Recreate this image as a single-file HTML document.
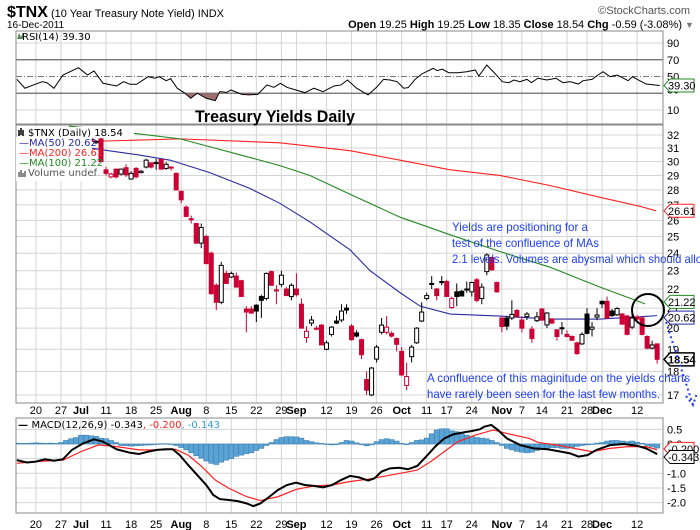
<!DOCTYPE html>
<html><head><meta charset="utf-8"><style>
html,body{margin:0;padding:0;background:#fff;}
svg{display:block;font-family:"Liberation Sans",Arial,sans-serif;}
.ax{font-size:11px;fill:#000;}
.lg{font-family:"DejaVu Sans",sans-serif;font-size:10px;}
.note{font-size:12px;fill:#2040f0;}
</style></head><body>
<svg id="chart" width="700" height="530" viewBox="0 0 700 530">
<rect x="0" y="0" width="700" height="530" fill="#fff"/>
<g>
<text x="7" y="17"><tspan font-weight="bold" font-size="16">$TNX</tspan><tspan font-size="11"> (10 Year Treasury Note Yield) INDX</tspan></text>
<text x="690" y="14" font-size="11" fill="#555" text-anchor="end">©StockCharts.com</text>
<text x="7" y="28" font-size="10">16-Dec-2011</text>
<text x="682" y="28" font-size="11" text-anchor="end"><tspan font-weight="bold">Open</tspan> 19.25 <tspan font-weight="bold">High</tspan> 19.25 <tspan font-weight="bold">Low</tspan> 18.35 <tspan font-weight="bold">Close</tspan> 18.54 <tspan font-weight="bold">Chg</tspan> -0.59 (-3.08%)</text>
<text x="685" y="28" font-size="9" fill="#777">▼</text>
</g>
<g id="grid"></g>
<g id="rsi"></g>
<g id="main"></g>
<g id="macd"></g>
<g id="over"></g>
</svg>
<script>
// ---------- DATA ----------
const startDate = "2011-06-14";
const holidays = ["2011-07-04","2011-09-05","2011-10-10","2011-11-11","2011-11-24"];
const labelDates = ["2011-06-20","2011-06-27","2011-07-01","2011-07-11","2011-07-18","2011-07-25","2011-08-01","2011-08-08","2011-08-15","2011-08-22","2011-08-29","2011-09-01","2011-09-12","2011-09-19","2011-09-26","2011-10-03","2011-10-11","2011-10-17","2011-10-24","2011-11-01","2011-11-07","2011-11-14","2011-11-21","2011-11-28","2011-12-01","2011-12-12"];
const labelTexts = ["20","27","Jul","11","18","25","Aug","8","15","22","29","Sep","12","19","26","Oct","11","17","24","Nov","7","14","21","28","Dec","12"];
const priceTicks = [32,31,30,29,28,27,26,25,24,23,22,21,20,19,18,17];
const rsiTicks = [90,70,50,30,10];
const macdTicks = [0.5,0.0,-0.5,-1.0,-1.5,-2.0];

const opens = [30.0,30.9,29.7,29.9,29.4,29.6,29.8,29.8,29.5,28.9,29.4,29.9,30.6,
31.6,32.0,31.7,31.4,31.7,29.4,28.9,29.45,29.1,29.55,28.75,29.5,29.2,29.6,29.9,29.85,30.15,29.5,29.6,29.15,27.9,26.85,26.1,25.8,24.6,25.0,24.0,22.2,21.3,22.85,22.65,22.7,22.45,20.95,20.95,21.15,21.6,21.5,22.95,21.95,22.25,22.0,21.6,22.0,21.2,19.55,20.25,20.0,20.15,19.0,19.7,20.35,20.4,21.0,20.1,
19.77,19.45,17.65,17.0,18.55,19.8,19.8,19.75,19.5,18.9,17.4,18.66,19.3,20.35,21.5,22.25,22.0,22.35,22.4,21.03,21.85,21.88,21.95,21.85,22.5,21.5,22.95,23.75,22.35,20.5,20.5,20.5,20.88,20.4,20.57,19.95,20.37,20.95,20.16,20.45,19.92,19.98,19.7,19.6,19.3,19.25,20.7,19.95,20.55,21.35,21.35,20.85,20.66,20.7,20.6,20.05,20.55,20.5,19.6,19.05,19.25];
const highs = [31.2,31.0,30.2,30.0,29.8,29.9,30.0,29.9,29.6,29.5,29.9,30.6,31.6,
32.2,32.1,31.8,31.6,31.9,29.6,29.2,29.5,29.5,29.8,29.3,29.6,29.4,30.2,29.9,30.2,30.2,29.95,29.65,29.2,27.95,26.95,26.3,25.85,25.8,25.1,24.1,22.3,23.5,23.0,22.95,22.9,22.5,21.1,21.1,21.2,21.7,22.9,23.0,22.2,23.0,22.1,22.3,22.85,21.5,20.1,20.6,20.1,20.2,19.4,20.1,20.6,21.2,21.2,20.2,
19.9,19.5,18.0,18.2,19.2,20.5,20.6,19.85,19.55,19.1,18.4,19.2,20.05,21.3,21.8,22.7,22.05,22.7,22.5,21.6,22.3,21.95,22.4,22.4,22.6,22.3,24.0,23.8,22.4,20.55,20.6,21.4,20.95,20.6,20.8,20.1,20.8,21.0,20.8,20.5,19.95,20.3,19.9,19.65,19.35,19.8,21.0,20.3,21.0,21.4,21.6,20.95,21.05,20.75,20.65,20.7,20.65,20.6,19.65,19.4,19.25];
const lows = [29.9,29.6,29.5,29.3,29.3,29.5,29.6,29.2,28.7,28.8,29.3,29.8,30.5,
31.5,31.6,31.4,31.3,29.9,29.0,28.8,28.8,29.0,28.9,28.7,28.8,29.15,29.5,29.5,29.4,29.4,29.4,29.35,27.95,27.1,26.2,25.8,24.55,24.3,23.4,21.7,20.9,21.2,22.3,22.6,22.1,21.6,19.8,20.7,20.3,20.5,21.4,22.2,21.2,22.1,21.65,21.4,21.6,20.0,19.3,20.1,19.9,19.2,18.95,19.6,20.2,20.3,20.7,19.4,
19.55,18.55,17.0,16.95,18.4,19.7,19.7,19.55,18.9,17.8,17.2,18.4,19.25,20.3,21.4,22.0,21.4,22.2,21.6,20.95,21.1,21.6,21.8,21.6,21.3,21.2,22.75,23.0,21.8,19.8,19.9,20.4,20.5,19.8,20.4,19.3,20.3,20.35,20.0,20.2,19.4,19.7,19.55,19.4,18.75,19.2,19.7,19.6,20.4,21.0,20.45,20.55,20.6,20.15,19.65,19.95,20.3,19.65,19.0,19.0,18.35];
const closes = [31.0,29.7,29.9,29.4,29.6,29.8,29.9,29.6,28.9,29.4,29.9,30.6,31.6,
32.0,31.7,31.5,31.5,30.0,29.15,29.1,28.9,29.45,29.05,29.15,28.9,29.3,30.1,29.6,29.92,29.45,29.8,29.55,28.0,27.33,26.25,26.05,24.6,25.55,23.4,21.75,21.3,23.3,22.3,22.85,22.1,21.6,20.8,20.75,20.85,21.4,22.85,22.2,21.9,22.75,21.65,22.2,21.7,20.0,19.85,20.4,19.95,19.2,19.3,20.05,20.25,20.85,20.9,19.45,
19.62,18.75,17.2,18.15,19.1,20.15,20.05,19.62,19.23,17.85,17.78,19.1,20.0,20.8,21.65,22.3,21.65,22.4,21.6,21.5,21.6,21.63,22.0,22.35,21.4,22.1,23.9,23.05,21.85,20.08,20.1,20.68,20.58,20.0,20.7,19.5,20.56,20.4,20.75,20.25,19.6,20.02,19.6,19.42,18.8,19.7,19.75,20.05,20.65,21.22,20.5,20.62,20.98,20.2,19.7,20.5,20.45,19.7,19.05,19.2,18.54];

const ma50Idx = [1.8,11.2,17.8,25.7,33.7,39.7,45.7,53.7,57.7,63.7,67.7,73.7,83.6,93.6,103.6,112.6,115];
const ma50Val = [31.0,30.5,30.1,29.2,28.1,27.1,25.9,24.2,23.0,21.8,21.1,20.7,20.6,20.45,20.45,20.58,20.62];
const ma100Idx = [-2.4,11.2,19.8,25.7,33.7,39.7,45.7,53.7,63.7,73.7,83.6,93.6,103.6,112.6];
const ma100Val = [32.7,32.1,31.7,31.1,30.3,29.7,29.0,27.7,26.2,25.1,24.1,23.2,22.1,21.22];
const ma200Idx = [1.8,19.8,39.7,53.7,63.7,73.7,83.6,93.6,103.6,111.6,114.8];
const ma200Val = [31.5,31.7,31.4,30.8,30.1,29.4,29.0,28.3,27.5,26.9,26.61];

const rsiIdx = [-12.8,-11.2,-9.5,-7.7,-6.8,-5.4,-3.6,-0.5,1.3,2.6,4.4,7.1,8.5,9.8,11.1,13.4,14.7,15.6,17,17.9,19.2,20.6,21.9,23.2,25,26.8,27.7,29.1,29.9,32.1,33.5,35.3,37.1,38.5,39.8,41.1,42.9,44.7,46.5,48.3,50.5,51.9,53.2,55,57.3,59,60.4,61.7,63.1,64.4,65.3,66.7,68,70.3,71.1,72.1,73.4,75.2,77,78.7,79.4,81,82.3,84.1,85.4,86.4,87.6,89,89.9,91.2,93,94.8,96.2,97.6,99.3,100.2,102,102.9,104.2,105.6,107,108.3,109.2,110.1,111,112.8,114.6,115.5];
const rsiVal = [46.6,36,39.9,43.8,42.6,36,51.8,60.5,51.8,56.6,41.9,38.7,43.8,40.7,40.7,49.8,47.9,49.8,45,47.4,36,30.7,24,30,24,21.1,31.9,31,33.9,28.7,28,28.7,39.9,37.1,41.9,37.1,33.9,30.7,36,31.9,38.7,39.9,45.8,36,28,37.1,46.6,45.8,43.8,36,36.7,46.6,53,59.7,57,58.8,54.5,54.5,55.7,57.8,50.6,63.7,55.7,43.8,42.6,45.8,43.8,46.6,42.6,47.9,45.8,47.9,42.6,43.8,41,45,46.6,50.6,55.7,49.8,51.8,47.9,45,49.8,46.6,41,39.9,39.3];

const macdIdx = [-12.8,-10.8,-9,-7.2,-5.4,-3.6,-1.8,0.4,2.6,4.4,7.1,9.8,11.6,13.4,15.2,17,18.3,19.7,21.4,23.2,25,26.4,27.7,29.5,31.3,33.1,34.4,35.8,37.6,39.3,41.1,42.9,44.7,46.5,48.3,50.1,51.9,53.7,55.5,57.3,58.6,60,61.7,63.5,65.3,67.1,68.9,70.7,72.5,74.3,76.1,77.9,79.6,80.5,81.9,83.2,85,87.7,90.4,93.1,95.8,97.6,99.3,101.1,102.9,105.6,108.3,111,112.8,115];
const macdVal = [-0.55,-0.63,-0.6,-0.52,-0.57,-0.52,-0.2,0.02,0.16,0.08,-0.18,-0.3,-0.34,-0.26,-0.2,-0.18,-0.18,-0.38,-0.72,-1.06,-1.4,-1.74,-1.88,-1.91,-1.95,-2.03,-2.12,-2.03,-1.8,-1.57,-1.4,-1.32,-1.4,-1.43,-1.48,-1.4,-1.23,-1.09,-1.14,-1.25,-1.17,-0.94,-0.83,-0.81,-0.86,-0.75,-0.43,-0.09,0.19,0.33,0.39,0.44,0.5,0.59,0.65,0.48,0.19,-0.04,-0.15,-0.18,-0.26,-0.32,-0.43,-0.38,-0.2,-0.04,0.0,-0.06,-0.15,-0.343];
const signalIdx = [-12.8,-9,-3.6,0,3.5,7.1,11.6,15.2,18.8,21.4,24.1,26.8,29.5,33.1,35.8,39.3,42.9,46.5,50.1,53.7,57.3,60.9,64.4,67.1,69.8,72.5,75.2,78.8,82.3,85,89.5,91.3,94.9,98.4,102,105.6,109.2,112.8,115];
const signalVal = [-0.66,-0.6,-0.55,-0.26,-0.03,-0.09,-0.2,-0.2,-0.18,-0.38,-0.77,-1.23,-1.51,-1.8,-1.93,-1.8,-1.55,-1.43,-1.4,-1.28,-1.2,-1.09,-0.98,-0.89,-0.6,-0.26,0.08,0.31,0.48,0.36,0.19,0.05,-0.03,-0.15,-0.26,-0.15,-0.09,-0.09,-0.2];
const histVal = [0.03,0.02,0.02,0.03,0.04,0.03,0.02,0.03,0.02,0.05,0.12,0.18,0.22,0.3,0.3,0.28,0.26,0.2,0.18,0.12,0.05,-0.05,-0.06,-0.07,-0.06,-0.05,-0.04,-0.03,0.0,0.01,0.01,0.0,-0.05,-0.12,-0.2,-0.3,-0.4,-0.48,-0.58,-0.66,-0.7,-0.62,-0.55,-0.5,-0.42,-0.38,-0.33,-0.3,-0.22,-0.15,-0.05,0.05,0.15,0.22,0.25,0.25,0.24,0.2,0.12,0.08,0.04,0.02,0.0,-0.03,-0.02,0.05,0.12,0.1,0.04,-0.02,-0.06,-0.03,0.08,0.15,0.18,0.15,0.1,0.02,-0.02,0.05,0.12,0.14,0.2,0.35,0.48,0.52,0.52,0.45,0.42,0.35,0.3,0.25,0.22,0.2,0.18,0.12,0.05,-0.05,-0.15,-0.2,-0.25,-0.28,-0.3,-0.28,-0.22,-0.18,-0.15,-0.12,-0.12,-0.15,-0.15,-0.12,-0.08,-0.05,-0.03,0.0,0.03,0.05,0.1,0.12,0.12,0.1,0.08,0.1,0.06,0.02,-0.05,-0.1,-0.14];

// ---------- SCALES ----------
const NS = "http://www.w3.org/2000/svg";
const FIRST = -13; // index of first data point (Jun 14)
const X0 = 81, DX = 5.01, L = 16, R = 663;
const xOf = i => X0 + i * DX;
const yMain = p => 135 + (Math.log(32) - Math.log(p)) * 411;
const yRsi = v => 43 + (90 - v) * 0.8375;
const yMacd = v => 444 - v * 29.3;

function el(tag, attrs, parent, text) {
  const e = document.createElementNS(NS, tag);
  for (const k in attrs) e.setAttribute(k, attrs[k]);
  if (text !== undefined) e.textContent = text;
  parent.appendChild(e);
  return e;
}
function tradingIndex(ds) {
  let d = new Date(startDate + "T12:00:00Z"), target = new Date(ds + "T12:00:00Z"), idx = FIRST;
  while (d < target) {
    d.setUTCDate(d.getUTCDate() + 1);
    const wd = d.getUTCDay(), s = d.toISOString().slice(0, 10);
    if (wd !== 0 && wd !== 6 && holidays.indexOf(s) < 0) idx++;
  }
  return idx;
}
const svg = document.getElementById("chart");
const grid = document.getElementById("grid");
const rsiG = document.getElementById("rsi");
const mainG = document.getElementById("main");
const macdG = document.getElementById("macd");
const over = document.getElementById("over");

// clip paths
const defs = el("defs", {}, svg);
[["cRsi", 31, 93], ["cMain", 125, 278], ["cMacd", 418, 95]].forEach(c => {
  const cp = el("clipPath", { id: c[0] }, defs);
  el("rect", { x: L, y: c[1], width: R - L, height: c[2] }, cp);
});

// panel frames & vertical grid
const panels = [[31, 124], [125, 403], [418, 513]];
const labelIdx = labelDates.map(tradingIndex);
panels.forEach((p, k) => {
  labelIdx.forEach(i => {
    const g = el("line", { x1: xOf(i), x2: xOf(i), y1: p[0], y2: p[1], stroke: "#d4d4d4", "stroke-width": 1 }, grid);
    
    
  });
});
priceTicks.forEach(t => {
  const g = el("line", { x1: L, x2: R, y1: yMain(t), y2: yMain(t), stroke: "#d4d4d4" }, grid);
  
  
  const tx = el("text", { x: 667, y: yMain(t) + 4, class: "ax" }, grid, String(t));
  
  
});
[[0.5],[-0.5],[-1.0],[-1.5],[-2.0],[0.0]].forEach(a => {
  const g = el("line", { x1: L, x2: R, y1: yMacd(a[0]), y2: yMacd(a[0]), stroke: "#d4d4d4" }, grid);
  
  
});
macdTicks.forEach(t => {
  const tx = el("text", { x: 667, y: yMacd(t) + 4, class: "ax" }, grid, t.toFixed(1));
  
  
});
rsiTicks.forEach(t => {
  const style = t === 70 || t === 30 ? { stroke: "#666", "stroke-width": 1.2 } : t === 50 ? { stroke: "#777", "stroke-dasharray": "6,2,1,2" } : { stroke: "#d4d4d4" };
  const g = el("line", Object.assign({ x1: L, x2: R, y1: yRsi(t), y2: yRsi(t) }, style), grid);
  
  
  const tx = el("text", { x: 667, y: yRsi(t) + 4 - (t === 30 ? 4 : 0), class: "ax" }, grid, String(t));
  
  
});
panels.forEach(p => {
  const f = el("rect", { x: L, y: p[0], width: R - L, height: p[1] - p[0], fill: "none", stroke: "#888" }, grid);
  
  
});
// date labels (two rows)
[410, 524].forEach(yy => {
  labelIdx.forEach((i, k) => {
    const bold = /^[A-Z]/.test(labelTexts[k]);
    const tx = el("text", { x: xOf(i), y: yy + 4, class: "ax", "text-anchor": "middle", "font-weight": bold ? "bold" : "normal", "font-size": bold ? 12 : 11 }, grid, labelTexts[k]);
    
    
  });
});

// ---------- RSI ----------
const rsiPts = rsiIdx.map((i, k) => [xOf(i), yRsi(rsiVal[k])]);
const cpB = el("clipPath", { id: "cBelow" }, defs);
el("rect", { x: L, y: yRsi(30), width: R - L, height: 124 - yRsi(30) }, cpB);
const area = el("polygon", { points: rsiPts.map(p => p.join(",")).join(" ") + ` ${rsiPts[rsiPts.length-1][0]},${yRsi(30)} ${rsiPts[0][0]},${yRsi(30)}`, fill: "#a07070", "clip-path": "url(#cBelow)" }, rsiG);


const rl = el("polyline", { points: rsiPts.map(p => p.join(",")).join(" "), fill: "none", stroke: "#000", "stroke-width": 1, "clip-path": "url(#cRsi)" }, rsiG);



// ---------- MAIN ----------
const cg = el("g", { "clip-path": "url(#cMain)" }, mainG);
function maLine(idx, val, color, name) {
  const pl = el("polyline", { points: idx.map((i, k) => xOf(i) + "," + yMain(val[k])).join(" "), fill: "none", stroke: color, "stroke-width": 1.1 }, cg);
  
  
}
maLine(ma200Idx, ma200Val, "#ff2020", "ma200-line");
maLine(ma100Idx, ma100Val, "#228822", "ma100-line");
maLine(ma50Idx, ma50Val, "#2a2aa0", "ma50-line");
closes.forEach((c, k) => {
  const i = FIRST + k, x = xOf(i), o = opens[k];
  const prev = k > 0 ? closes[k - 1] : o;
  const col = c < prev ? "#cc0033" : "#000";
  const filled = c < o;
  const w = el("line", { x1: x, x2: x, y1: yMain(highs[k]), y2: yMain(lows[k]), stroke: col, "stroke-width": 1 }, cg);
  
  
  const top = yMain(Math.max(o, c)), bot = yMain(Math.min(o, c));
  const b = el("rect", { x: x - 2, y: top, width: 4, height: Math.max(bot - top, 1), fill: filled ? col : "#fff", stroke: col, "stroke-width": 1 }, cg);
  
  
});

// ---------- MACD ----------
const mg = el("g", { "clip-path": "url(#cMacd)" }, macdG);
histVal.forEach((h, k) => {
  const x = xOf(FIRST + k), y0 = yMacd(0), y1 = yMacd(h);
  const r = el("rect", { x: x - 2.5, y: Math.min(y0, y1), width: 5, height: Math.max(Math.abs(y1 - y0), 0.5), fill: "#5aa3d4", stroke: "#3a7fb0", "stroke-width": 0.6 }, mg);
  
  
});
const sl = el("polyline", { points: signalIdx.map((i, k) => xOf(i) + "," + yMacd(signalVal[k])).join(" "), fill: "none", stroke: "#ff2020", "stroke-width": 1.2 }, mg);


const ml = el("polyline", { points: macdIdx.map((i, k) => xOf(i) + "," + yMacd(macdVal[k])).join(" "), fill: "none", stroke: "#000", "stroke-width": 2 }, mg);



// ---------- OVERLAYS ----------
function tag(y, txt, color, bold, name) {
  const g = el("g", {}, over);
  
  
  el("polygon", { points: `${R+1},${y} ${R+7},${y-6.5} ${694},${y-6.5} ${694},${y+6.5} ${R+7},${y+6.5}`, fill: "#fff", stroke: color, "stroke-width": bold ? 1.5 : 1 }, g);
  el("text", { x: 668, y: y + 4, "font-size": 11, "font-weight": bold ? "bold" : "normal", fill: "#000" }, g, txt);
}
tag(yRsi(39.3), "39.30", "#228822", false, "rsi-value-tag");
tag(yMain(26.61), "26.61", "#ff2020", false, "ma200-value-tag");
tag(yMain(21.22) - 2, "21.22", "#228822", false, "ma100-value-tag");
tag(yMain(20.62) + 2, "20.62", "#2a2aa0", false, "ma50-value-tag");
tag(yMain(18.54), "18.54", "#000", true, "close-value-tag");
tag(yMacd(-0.2) - 1, "-0.200", "#ff2020", false, "signal-value-tag");
tag(yMacd(-0.343) + 3, "-0.343", "#000", false, "macd-value-tag");

// legends
function legendRow(x, y, w, parts, name) {
  const g = el("g", {}, over);
  
  
  el("rect", { x: x - 2, y: y - 9, width: w, height: 11, fill: "#fff" }, g);
  const t = el("text", { x: x, y: y, class: "lg" }, g);
  parts.forEach(p => { const s = el("tspan", { fill: p[1] }, t, p[0]); });
}
const rsiLeg = el("text", { x: 22, y: 40, class: "lg" }, over, "RSI(14) 39.30");


el("path", { d: "M17 39 L19 33 L21 37 L23 32 L23 39 Z", fill: "#5a8a5a" }, over);
el("rect", { x: 16, y: 137, width: 76, height: 44, fill: "#fff" }, over);
legendRow(28, 136, 108, [["$TNX (Daily) 18.54", "#000"]], "price-legend");
el("path", { d: "M19 130 v6 M21 128 v7 M23 130 v6", stroke: "#000", "stroke-width": 1.5 }, over);
legendRow(19, 146, 74, [["—", "#2a2aa0"], ["MA(50) 20.62", "#2a2aa0"]], "ma50-legend");
legendRow(19, 156, 74, [["—", "#ff2020"], ["MA(200) 26.61", "#ff2020"]], "ma200-legend");
legendRow(19, 166, 74, [["—", "#228822"], ["MA(100) 21.22", "#228822"]], "ma100-legend");
legendRow(28, 176, 66, [["Volume undef", "#555"]], "volume-legend");
el("path", { d: "M19 177 v-5 M21 177 v-7 M23 177 v-4 M25 177 v-6", stroke: "#666", "stroke-width": 1.5 }, over);
const mlg = el("text", { x: 18, y: 428, class: "lg" }, over);


el("tspan", { fill: "#000", "font-weight": "bold" }, mlg, "— ");
el("tspan", { fill: "#000" }, mlg, "MACD(12,26,9) -0.343");
el("tspan", { fill: "#ff2020" }, mlg, ", -0.200");
el("tspan", { fill: "#3399cc" }, mlg, ", -0.143");

// title & annotations
const tt = el("text", { x: 195, y: 122, "font-size": 17, "font-weight": "bold", textLength: 160, lengthAdjust: "spacingAndGlyphs" }, over, "Treasury Yields Daily");


[["Yields are positioning for a", 452, 231, 136], ["test of the confluence of MAs", 452, 247, 147], ["2.1 levels. Volumes are abysmal which should allo", 452, 263, 250],
 ["A confluence of this maginitude on the yields charts", 427, 382, 263], ["have rarely been seen for the last few months.", 427, 398, 233]].forEach(a => {
  const t = el("text", { x: a[1], y: a[2], class: "note", textLength: a[3], lengthAdjust: "spacingAndGlyphs" }, over, a[0]);
  
  
});
const circ = el("ellipse", { cx: 648, cy: 310, rx: 16, ry: 16, fill: "none", stroke: "#000", "stroke-width": 2 }, over);


const arr = el("path", { d: "M666 322 L693 405 M686 396 L693 405 L697 393", fill: "none", stroke: "#2040f0", "stroke-width": 2, "stroke-dasharray": "2,3" }, over);


</script>
</body></html>
